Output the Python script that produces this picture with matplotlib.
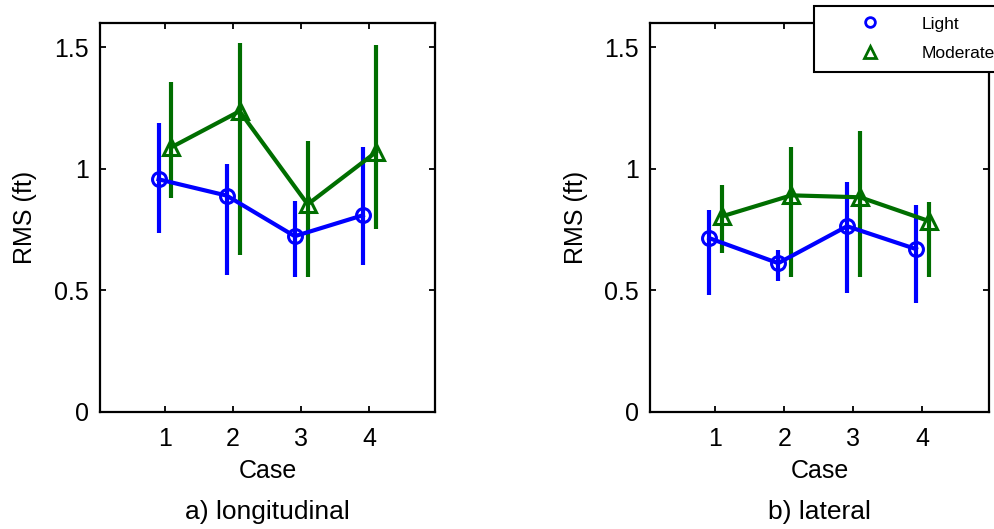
import matplotlib.pyplot as plt
import numpy as np

plt.rcParams['font.family'] = ['Liberation Sans', 'DejaVu Sans']

# datos: media, extremo inferior y superior de cada caso
cases = [1, 2, 3, 4]
case_labels = ['1', '2', '3', '4']

long_light = [0.957, 0.89, 0.723, 0.809]
long_light_lo = [0.735, 0.563, 0.555, 0.604]
long_light_hi = [1.187, 1.02, 0.867, 1.089]

long_mod = [1.089, 1.237, 0.854, 1.068]
long_mod_lo = [0.879, 0.645, 0.555, 0.752]
long_mod_hi = [1.356, 1.516, 1.113, 1.508]

lat_light = [0.715, 0.612, 0.764, 0.67]
lat_light_lo = [0.48, 0.538, 0.489, 0.448]
lat_light_hi = [0.83, 0.665, 0.945, 0.85]

lat_mod = [0.805, 0.891, 0.883, 0.785]
lat_mod_lo = [0.653, 0.555, 0.555, 0.555]
lat_mod_hi = [0.932, 1.089, 1.154, 0.863]

blue = '#0000ff'
green = '#006e00'

fig = plt.figure(figsize=(9.95, 5.29), dpi=100)
ax1 = fig.add_axes([0.1005, 0.2212, 0.3367, 0.7354])
ax2 = fig.add_axes([0.6533, 0.2212, 0.3407, 0.7354])


def dibujar(ax, light, lo1, hi1, mod, lo2, hi2, titulo):
    x = np.array(cases, dtype=float)
    light = np.array(light)
    mod = np.array(mod)
    e1 = [light - np.array(lo1), np.array(hi1) - light]
    e2 = [mod - np.array(lo2), np.array(hi2) - mod]
    ax.errorbar(x - 0.09, light, yerr=e1, color=blue, lw=3, elinewidth=3,
                capsize=0, marker='o', ms=10, mfc='none', mew=2.2, label='Light')
    ax.errorbar(x + 0.1, mod, yerr=e2, color=green, lw=3, elinewidth=3,
                capsize=0, marker='^', ms=12, mfc='none', mew=2.2, label='Moderate')
    ax.set_xlim(0.05, 4.97)
    ax.set_ylim(0, 1.6)
    ax.set_xticks(cases)
    ax.set_xticklabels(case_labels)
    ax.set_yticks([0, 0.5, 1, 1.5])
    ax.set_yticklabels(['0', '0.5', '1', '1.5'])
    ax.tick_params(direction='in', length=4.5, width=1.3, labelsize=18,
                   top=True, right=True)
    ax.tick_params(axis='x', pad=10.5)
    ax.tick_params(axis='y', pad=8)
    for s in ax.spines.values():
        s.set_linewidth(1.6)
    ax.set_xlabel('Case', fontsize=18, labelpad=6)
    ax.set_ylabel('RMS (ft)', fontsize=18, labelpad=12)
    # subtitulo debajo de cada panel
    ax.text(0.5, -0.257, titulo, transform=ax.transAxes, ha='center', va='center',
            fontsize=19)


dibujar(ax1, long_light, long_light_lo, long_light_hi,
        long_mod, long_mod_lo, long_mod_hi, 'a) longitudinal')
dibujar(ax2, lat_light, lat_light_lo, lat_light_hi,
        lat_mod, lat_mod_lo, lat_mod_hi, 'b) lateral')

# leyenda solo con marcadores
h1 = plt.Line2D([], [], color=blue, marker='o', ls='none', ms=7, mfc='none', mew=2)
h2 = plt.Line2D([], [], color=green, marker='^', ls='none', ms=8, mfc='none', mew=2)
leg = fig.legend([h1, h2], ['Light', 'Moderate'], loc='upper left',
                 bbox_to_anchor=(814 / 995, 1 - 6 / 529), fontsize=12.5,
                 fancybox=False, framealpha=1, edgecolor='black',
                 borderpad=0.6, labelspacing=0.85, handlelength=5.3,
                 handletextpad=0.3, borderaxespad=0)
leg.get_frame().set_linewidth(1.5)

plt.savefig('out.png', dpi=100)
